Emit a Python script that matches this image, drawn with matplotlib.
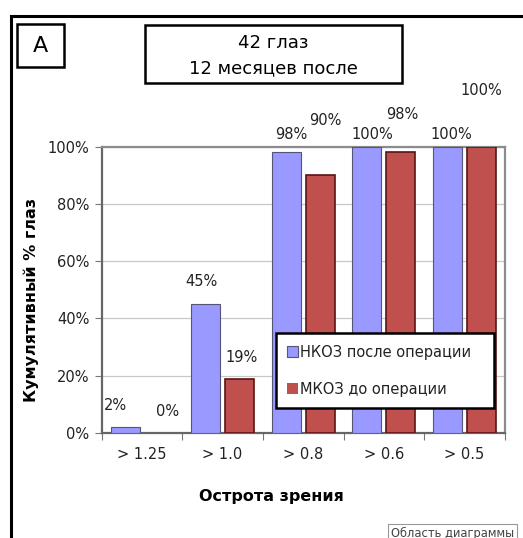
import matplotlib.pyplot as plt
import numpy as np
from matplotlib.patches import Rectangle

# Cumulative share of eyes per visual acuity threshold
categories = ["> 1.25", "> 1.0", "> 0.8", "> 0.6", "> 0.5"]
ucva_after = [2, 45, 98, 100, 100]   # НКОЗ после операции
bcva_before = [0, 19, 90, 98, 100]   # МКОЗ до операции
series_names = ["НКОЗ после операции", "МКОЗ до операции"]
yticks = [0, 20, 40, 60, 80, 100]

# label placement (x shift from group centre, height above bar in %)
blue_lbl_dx = [-0.335, -0.26, -0.15, -0.146, -0.16]
blue_lbl_dy = [7.5, 7.8, 6.3, 4.1, 4.1]
red_lbl_dx = [0.316, 0.237, 0.277, 0.232, 0.206]
red_lbl_dy = [7.4, 7.4, 19.0, 13.1, 19.6]

W, H = 523, 538
fig = plt.figure(figsize=(W / 100, H / 100), dpi=100)
fig.patch.set_facecolor("white")

# outer chart frame (runs off the right and bottom edges)
fig.patches.append(Rectangle((11 / W, -0.05), 1.2, 1 - 15.5 / H + 0.05,
                             transform=fig.transFigure, fill=False,
                             edgecolor="black", linewidth=2.2))

ax = fig.add_axes([101.7 / W, 1 - 433 / H, 403 / W, 286.3 / H])
x = np.arange(len(categories))
width = 0.36
ax.bar(x - 0.21, ucva_after, width, color="#9999FF", edgecolor="#55557a",
       linewidth=[0.8 if v > 0 else 0 for v in ucva_after],
       label=series_names[0], zorder=3)
ax.bar(x + 0.21, bcva_before, width, color="#C0504D", edgecolor="#5a1414",
       linewidth=[1.2 if v > 0 else 0 for v in bcva_before],
       label=series_names[1], zorder=3)

for i in range(len(categories)):
    ax.text(i + blue_lbl_dx[i], ucva_after[i] + blue_lbl_dy[i], f"{ucva_after[i]}%",
            ha="center", va="center", fontsize=10.5, color="#222222", clip_on=False)
    ax.text(i + red_lbl_dx[i], bcva_before[i] + red_lbl_dy[i], f"{bcva_before[i]}%",
            ha="center", va="center", fontsize=10.5, color="#222222", clip_on=False)

ax.set_xlim(-0.5, len(categories) - 0.5)
ax.set_ylim(0, 100)
ax.set_yticks(yticks)
ax.set_yticklabels([f"{v}%" for v in yticks], fontsize=10.5, color="#222222")
ax.set_xticks(np.arange(len(categories) + 1) - 0.5, minor=False)
ax.set_xticklabels([])
ax.set_xticks(x, minor=True)
ax.set_xticklabels(categories, minor=True, fontsize=10.5, color="#222222")
ax.tick_params(axis="x", which="minor", length=0, pad=10)
ax.tick_params(axis="x", which="major", length=5, color="#777777", direction="out")
ax.tick_params(axis="y", length=5, color="#777777", pad=4)
ax.grid(axis="y", color="#c8c8c8", linewidth=0.9, zorder=0)

for side in ["top", "right"]:
    ax.spines[side].set_color("#8c8c8c")
    ax.spines[side].set_linewidth(1.6)
for side in ["left", "bottom"]:
    ax.spines[side].set_color("#666666")
    ax.spines[side].set_linewidth(1.6)

fig.text(31 / W, 1 - 300 / H, "Кумулятивный % глаз", rotation=90,
         ha="center", va="center", fontsize=11.5, fontweight="bold")
fig.text(271 / W, 1 - 496 / H, "Острота зрения", ha="center", va="center",
         fontsize=11.5, fontweight="bold")

# panel letter and title boxes
fig.patches.append(Rectangle((17 / W, 1 - 66.7 / H), 47 / W, 42.7 / H,
                             transform=fig.transFigure, fill=True,
                             facecolor="white", edgecolor="black", linewidth=1.8))
fig.text(40.5 / W, 1 - 46 / H, "A", ha="center", va="center", fontsize=16)
fig.patches.append(Rectangle((145 / W, 1 - 83.3 / H), 256.7 / W, 58.3 / H,
                             transform=fig.transFigure, fill=True,
                             facecolor="white", edgecolor="black", linewidth=1.8))
fig.text(273 / W, 1 - 43 / H, "42 глаз", ha="center", va="center", fontsize=13)
fig.text(273 / W, 1 - 68 / H, "12 месяцев после", ha="center", va="center",
         fontsize=13)

leg_x0 = (275.7 - 101.7) / 403
leg_w = (494 - 275.7) / 403
leg_top = (433 - 333) / 286.3
leg = ax.legend(loc="upper left", bbox_to_anchor=(leg_x0, leg_top - 0.3, leg_w, 0.3),
                mode="expand", frameon=True, fancybox=False, framealpha=1,
                fontsize=10.5, handlelength=0.7, handleheight=0.7,
                handletextpad=0.2, labelspacing=1.5, borderpad=0.8,
                borderaxespad=0)
leg.get_frame().set_edgecolor("black")
leg.get_frame().set_linewidth(1.8)
leg.set_zorder(5)
for t in leg.get_texts():
    t.set_color("#222222")

fig.text(391 / W, 1 - 533 / H, "Область диаграммы", ha="left", va="center",
         fontsize=8.3, color="#444444",
         bbox=dict(boxstyle="square,pad=0.25", facecolor="white", edgecolor="#999999",
                   linewidth=0.8))

fig.savefig("out.png", dpi=100)
